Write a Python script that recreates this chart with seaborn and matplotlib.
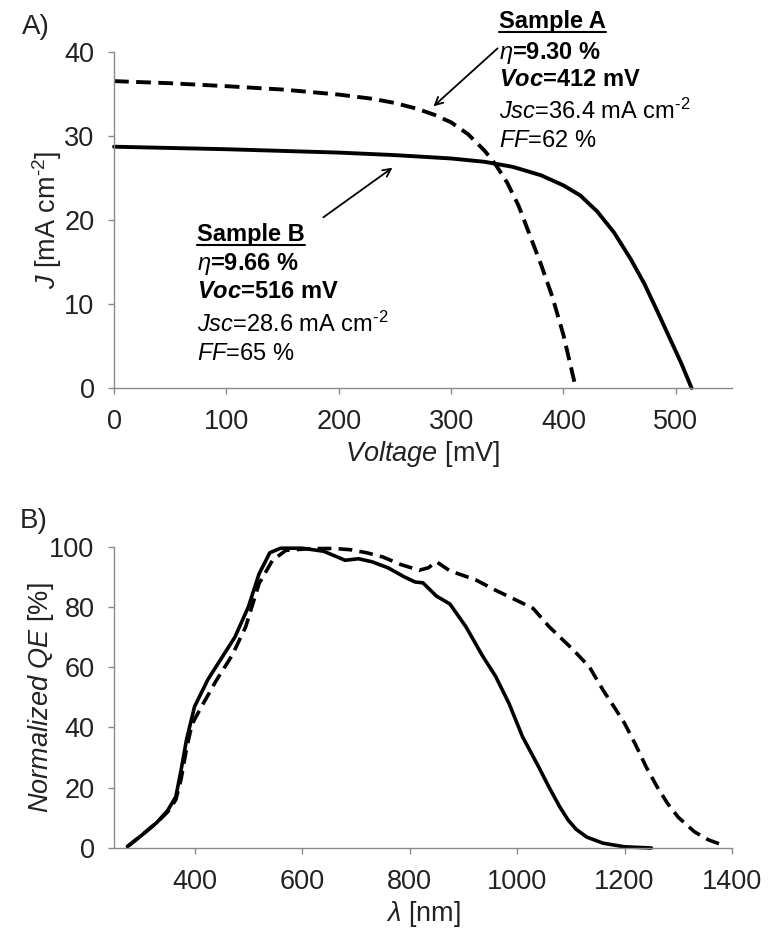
import matplotlib
matplotlib.use("Agg")
import matplotlib.pyplot as plt
from matplotlib.lines import Line2D
import numpy as np
import pandas as pd
import seaborn as sns

# ---------------- data ----------------
# Panel A: J-V curves
voltage_A = [0, 50, 100, 150, 200, 230, 250, 270, 285, 300, 315, 330, 340, 350, 360,
             370, 380, 390, 400, 411]
current_A = [36.5, 36.25, 35.9, 35.5, 34.9, 34.4, 33.9, 33.2, 32.5, 31.6, 30.2, 28.2,
             26.5, 24.4, 21.7, 18.2, 14.7, 10.9, 6.3, 0.0]
voltage_B = [0, 100, 200, 250, 300, 330, 355, 380, 400, 415, 430, 445, 460, 472, 484,
             495, 505, 514]
current_B = [28.7, 28.4, 28.0, 27.7, 27.3, 26.9, 26.3, 25.3, 24.1, 22.9, 21.0, 18.5,
             15.3, 12.4, 9.0, 5.8, 2.9, 0.0]

# Panel B: normalized QE
wl_A = [275, 300, 330, 350, 365, 375, 385, 395, 410, 440, 470, 495, 520, 545, 570, 620,
        660, 690, 720, 750, 785, 818, 835, 850, 875, 923, 955, 1005, 1030, 1060, 1105,
        1135, 1160, 1180, 1200, 1220, 1240, 1260, 1280, 1300, 1330, 1355, 1385]
qe_A = [0.5, 4, 8.5, 12, 16, 23, 33, 41, 46, 55.5, 64, 73.4, 87.8, 95.5, 98.8, 99.4,
        99.4, 99, 98, 96.6, 94, 92.2, 93, 95, 92, 89, 86, 81.7, 79.5, 73.4, 65.7,
        60, 52.4, 47, 41.4, 34.5, 27, 20.5, 14.8, 10.2, 5.4, 2.8, 0.8]
wl_B = [275, 300, 330, 350, 365, 375, 385, 400, 425, 450, 475, 500, 520, 540, 560, 600,
        640, 680, 705, 730, 760, 790, 810, 825, 850, 875, 905, 935, 960, 985, 1010,
        1040, 1060, 1080, 1095, 1110, 1130, 1160, 1200, 1250]
qe_B = [0.5, 4, 8.5, 12.5, 17, 26, 36, 47, 56, 63, 70, 80, 91, 98, 99.5, 99.5,
        98.5, 95.5, 96, 95, 93, 90, 88.3, 88, 83.6, 81, 73.4, 64, 57, 48, 37,
        27, 20, 13.5, 9.3, 6.2, 3.6, 1.6, 0.4, 0]

sample_A_lines = ["Sample A", r"$\eta$=9.30 %", r"$\mathbfit{Voc}$=412 mV",
                  r"$\mathit{Jsc}$=36.4 mA cm$^{\text{-2}}$", r"$\mathit{FF}$=62 %"]
sample_B_lines = ["Sample B", r"$\eta$=9.66 %", r"$\mathbfit{Voc}$=516 mV",
                  r"$\mathit{Jsc}$=28.6 mA cm$^{\text{-2}}$", r"$\mathit{FF}$=65 %"]
line_weights = ["bold", "bold", "bold", "normal", "normal"]

# ---------------- style ----------------
sns.set_theme(style="ticks")
TXT = "#222222"
SPINE = "#8a8a8a"
plt.rcParams.update({
    "font.family": ["Liberation Sans", "DejaVu Sans"],
    "mathtext.fontset": "custom",
    "mathtext.rm": "Liberation Sans",
    "mathtext.it": "Liberation Sans:italic",
    "mathtext.bf": "Liberation Sans:bold",
    "mathtext.bfit": "Liberation Sans:bold:italic",
    "text.color": TXT,
    "axes.labelcolor": TXT,
    "xtick.color": SPINE,
    "ytick.color": SPINE,
    "xtick.labelcolor": TXT,
    "ytick.labelcolor": TXT,
    "axes.edgecolor": SPINE,
})

W, H = 780, 931
fig = plt.figure(figsize=(W / 100, H / 100), dpi=100)
fig.patch.set_facecolor("white")

def ax_rect(x0, x1, ytop, ybot):
    return [x0 / W, 1 - ybot / H, (x1 - x0) / W, (ybot - ytop) / H]

axA = fig.add_axes(ax_rect(114, 732, 51.7, 388))
axB = fig.add_axes(ax_rect(114, 732, 546.7, 848))

dfA = pd.DataFrame({"V": voltage_A, "J": current_A})
dfB = pd.DataFrame({"V": voltage_B, "J": current_B})
sns.lineplot(data=dfA, x="V", y="J", ax=axA, color="black", linewidth=2.8,
             linestyle=(0, (3.8, 1.9)), clip_on=False)
sns.lineplot(data=dfB, x="V", y="J", ax=axA, color="black", linewidth=2.8, clip_on=False)

qA = pd.DataFrame({"wl": wl_A, "qe": qe_A})
qB = pd.DataFrame({"wl": wl_B, "qe": qe_B})
sns.lineplot(data=qA, x="wl", y="qe", ax=axB, color="black", linewidth=2.6,
             linestyle=(0, (3.8, 2.0)), clip_on=False)
sns.lineplot(data=qB, x="wl", y="qe", ax=axB, color="black", linewidth=2.6, clip_on=False)

for ln in axA.lines + axB.lines:
    ln.set_solid_joinstyle("round")
    ln.set_dash_joinstyle("round")

FS = 19.5
for ax in (axA, axB):
    sns.despine(ax=ax)
    ax.spines["left"].set_linewidth(1.0)
    ax.spines["bottom"].set_linewidth(1.0)
    ax.tick_params(axis="both", direction="out", length=4, width=1.0, labelsize=FS)
    ax.tick_params(axis="x", pad=11)
    ax.tick_params(axis="y", pad=10)

axA.set_xlim(0, 550)
axA.set_ylim(0, 40)
axA.set_xticks([0, 100, 200, 300, 400, 500])
axA.set_yticks([0, 10, 20, 30, 40])
axA.set_xlabel(r"$\mathit{Voltage}$ [mV]", fontsize=FS, labelpad=3)
axA.set_ylabel(r"$\mathit{J}$ [mA cm$^{\text{-2}}$]", fontsize=FS, labelpad=0.5)

axB.set_xlim(250, 1400)
axB.set_ylim(0, 100)
axB.set_xticks([400, 600, 800, 1000, 1200, 1400])
axB.set_yticks([0, 20, 40, 60, 80, 100])
axB.set_xlabel(r"$\lambda$ [nm]", fontsize=FS, labelpad=3)
axB.set_ylabel(r"$\mathit{Normalized\ QE}$ [%]", fontsize=FS, labelpad=-5)

# panel letters
fig.text(22 / W, 1 - 34 / H, "A)", fontsize=20, va="baseline", ha="left")
fig.text(20 / W, 1 - 528 / H, "B)", fontsize=20, va="baseline", ha="left")

# annotation blocks (data coords of panel A)
ANN = 17
blockA_x, blockA_y = 343, [42.76, 39.19, 35.87, 31.95, 28.62]
blockB_x, blockB_y = 74, [17.46, 14.01, 10.69, 6.65, 3.33]
titles = []
for lines, bx, bys in ((sample_A_lines, blockA_x, blockA_y), (sample_B_lines, blockB_x, blockB_y)):
    for i, (s, y) in enumerate(zip(lines, bys)):
        t = axA.text(bx, y, s, fontsize=ANN, fontweight=line_weights[i], color="black",
                     ha="left", va="baseline", clip_on=False)
        if i == 0:
            titles.append(t)

# arrows
axA.annotate("", xy=(284.3, 33.5), xytext=(341.4, 40.4),
             arrowprops=dict(arrowstyle="->", color="black", lw=1.3,
                             shrinkA=0, shrinkB=0, mutation_scale=14))
axA.annotate("", xy=(247.8, 26.2), xytext=(186.3, 20.3),
             arrowprops=dict(arrowstyle="->", color="black", lw=1.3,
                             shrinkA=0, shrinkB=0, mutation_scale=14))

# underline titles
fig.canvas.draw()
renderer = fig.canvas.get_renderer()
for t in titles:
    bb = t.get_window_extent(renderer)
    x, y = t.get_position()
    base = axA.transData.transform((x, y))[1]
    yline = (base - 4) / H
    fig.add_artist(Line2D([bb.x0 / W, bb.x1 / W], [yline, yline],
                          transform=fig.transFigure, color="black", lw=1.5))

fig.savefig("out.png", dpi=100, facecolor="white")
